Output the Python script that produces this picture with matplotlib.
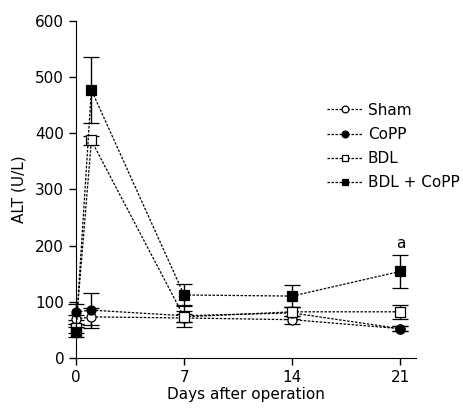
import matplotlib
matplotlib.use('agg')
from matplotlib import pyplot as plt

days = [0, 1, 7, 14, 21]

sham = [69, 73, 71, 68, 52]
sham_err = [8, 15, 8, 7, 4]
copp = [82, 85, 75, 80, 52]
copp_err = [14, 31, 20, 10, 4]
bdl = [53, 387, 73, 82, 82]
bdl_err = [8, 8, 10, 8, 12]
bdl_copp = [46, 477, 112, 110, 154]
bdl_copp_err = [9, 59, 20, 20, 29]

series = [
    ('Sham', sham, sham_err, 'o', 'white'),
    ('CoPP', copp, copp_err, 'o', 'black'),
    ('BDL', bdl, bdl_err, 's', 'white'),
    ('BDL + CoPP', bdl_copp, bdl_copp_err, 's', 'black'),
]

plt.rcParams['font.family'] = 'DejaVu Sans'
plt.rcParams['font.size'] = 11

fig = plt.figure(figsize=(4.63, 4.09), dpi=100)
ax = fig.add_axes([0.164, 0.125, 0.734, 0.824])

for label, values, errs, marker, face in series:
    ax.errorbar(days, values, yerr=errs, color='black', linestyle=(0, (2, 1.2)),
                linewidth=0.9, marker=marker, markersize=6.5, markerfacecolor=face,
                markeredgecolor='black', markeredgewidth=0.9, ecolor='black',
                elinewidth=1, capsize=6, capthick=1, label=label, clip_on=False)

ax.text(21, 190, 'a', ha='center', va='bottom', fontsize=11)

ax.set_xlim(0, 22)
ax.set_ylim(0, 600)
ax.set_xticks([0, 7, 14, 21])
ax.set_yticks(range(0, 601, 100))
ax.spines['top'].set_visible(False)
ax.spines['right'].set_visible(False)
ax.tick_params(direction='out', length=5, width=1)
ax.set_xlabel('Days after operation', labelpad=2)
ax.set_ylabel('ALT (U/L)', labelpad=6)

handles, labels = ax.get_legend_handles_labels()
handles = [h[0] for h in handles]
ax.legend(handles, labels, loc='upper left', bbox_to_anchor=(0.72, 0.775), frameon=False,
          handlelength=2.4, handletextpad=0.3, labelspacing=0.6, borderaxespad=0,
          markerscale=0.75)

plt.savefig('out.png', dpi=100)
